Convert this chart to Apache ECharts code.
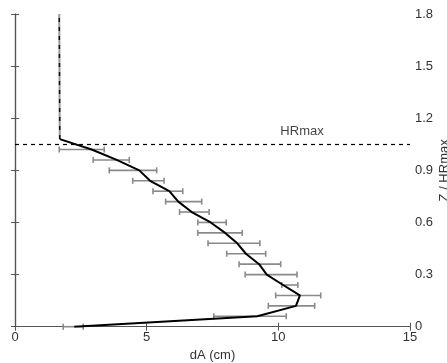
<!DOCTYPE html>
<html>
<head>
<meta charset="utf-8">
<script src="https://cdn.jsdelivr.net/npm/echarts@6/dist/echarts.min.js"></script>
<style>html,body{margin:0;padding:0;background:#fff}#c{width:447px;height:363px}</style>
</head>
<body>
<div id="c"></div>
<script>
// Heights (Z / HRmax) of the profile points and error bars
const zLevels = [0, 0.06, 0.12, 0.18, 0.24, 0.30, 0.36, 0.42, 0.48, 0.54, 0.60, 0.66, 0.72, 0.78, 0.84, 0.90, 0.96, 1.02];
// Mean dA (cm) along the profile
const dAMean = [2.25, 9.2, 10.67, 10.82, 10.18, 9.56, 9.27, 8.77, 8.44, 7.98, 7.43, 6.71, 6.20, 5.86, 5.13, 4.72, 3.86, 2.91];
// Error bar extents
const dALow  = [1.83, 7.55, 9.62, 9.90, 10.13, 8.74, 8.51, 8.04, 7.33, 6.94, 6.94, 6.25, 5.72, 5.24, 4.47, 3.58, 2.97, 1.68];
const dAHigh = [2.59, 10.30, 11.38, 11.61, 10.74, 10.71, 10.09, 9.52, 9.30, 8.63, 8.02, 7.37, 7.09, 6.37, 5.66, 5.38, 4.34, 3.39];
// Junction and upper part of the profile (above HRmax)
const upperZ = [1.08, 1.8];
const upperDA = [1.70, 1.68];
const hrMax = 1.05;
const hrLabel = 'HRmax';
const hrLabelPos = [10.9, 1.05];
const xTicks = [0, 5, 10, 15];
const yTicks = [0, 0.3, 0.6, 0.9, 1.2, 1.5, 1.8];

const mainLine = zLevels.map((z, i) => [dAMean[i], z]).concat([[upperDA[0], upperZ[0]]]);
const upperLine = upperZ.map((z, i) => [upperDA[i], z]);
const bars = zLevels.map((z, i) => [dALow[i], dAHigh[i], z]);

const axisCol = '#555';
const txtCol = '#333';
const font = 'Liberation Sans, Arial, sans-serif';

const chart = echarts.init(document.getElementById('c'));
chart.setOption({
  animation: false,
  grid: { left: 15, right: 37, top: 14, bottom: 36.3, containLabel: false, outerBoundsMode: 'none' },
  xAxis: [{
    type: 'value', min: 0, max: 15, interval: 5, position: 'bottom',
    name: 'dA (cm)', nameLocation: 'middle', nameGap: 18,
    nameTextStyle: { color: txtCol, fontSize: 13, fontFamily: font },
    axisLine: { show: true, lineStyle: { color: axisCol, width: 1.2 } },
    axisTick: { show: true, inside: true, length: 4, lineStyle: { color: axisCol } },
    axisLabel: { color: txtCol, fontSize: 13, fontFamily: font, margin: 4 },
    splitLine: { show: false }
  }, {
    type: 'value', min: 0, max: 15, interval: 5, position: 'top',
    axisLine: { show: true, lineStyle: { color: axisCol, width: 1.2 } },
    axisTick: { show: true, inside: true, length: 4, lineStyle: { color: axisCol } },
    axisLabel: { show: false }, splitLine: { show: false }
  }],
  yAxis: [{
    type: 'value', min: 0, max: 1.8, interval: 0.3, position: 'right',
    name: 'Z / HRmax', nameLocation: 'middle', nameGap: 28, nameRotate: 90, nameMoveOverlap: false,
    nameTextStyle: { color: txtCol, fontSize: 13, fontFamily: font },
    axisLine: { show: true, lineStyle: { color: axisCol, width: 1.2 } },
    axisTick: { show: true, inside: true, length: 4, lineStyle: { color: axisCol } },
    axisLabel: { color: txtCol, fontSize: 13, fontFamily: font, margin: 5,
      formatter: v => String(+v.toFixed(1)) },
    splitLine: { show: false }
  }, {
    type: 'value', min: 0, max: 1.8, interval: 0.3, position: 'left',
    axisLine: { show: true, lineStyle: { color: axisCol, width: 1.2 } },
    axisTick: { show: true, inside: true, length: 4, lineStyle: { color: axisCol } },
    axisLabel: { show: false }, splitLine: { show: false }
  }],
  series: [
    {
      type: 'custom', xAxisIndex: 0, yAxisIndex: 0, data: bars, z: 2,
      renderItem: function (params, api) {
        const p1 = api.coord([api.value(0), api.value(2)]);
        const p2 = api.coord([api.value(1), api.value(2)]);
        const h = 3;
        const st = { stroke: '#8a8a8a', lineWidth: 1.6 };
        return { type: 'group', children: [
          { type: 'line', shape: { x1: p1[0], y1: p1[1], x2: p2[0], y2: p2[1] }, style: st },
          { type: 'line', shape: { x1: p1[0], y1: p1[1] - h, x2: p1[0], y2: p1[1] + h }, style: st },
          { type: 'line', shape: { x1: p2[0], y1: p2[1] - h, x2: p2[0], y2: p2[1] + h }, style: st }
        ]};
      }
    },
    {
      type: 'line', xAxisIndex: 0, yAxisIndex: 0, data: upperLine, symbol: 'none', z: 3,
      lineStyle: { color: '#999', width: 2 }
    },
    {
      type: 'line', xAxisIndex: 0, yAxisIndex: 0, data: upperLine, symbol: 'none', z: 4,
      lineStyle: { color: '#111', width: 1.5, type: [4, 5] }
    },
    {
      type: 'line', xAxisIndex: 0, yAxisIndex: 0, data: mainLine, symbol: 'none', z: 5,
      lineStyle: { color: '#000', width: 2 },
      markLine: {
        silent: true, symbol: 'none', label: { show: false },
        lineStyle: { color: '#000', type: [4, 4], width: 1.2 },
        data: [{ yAxis: hrMax }]
      }
    },
    {
      type: 'scatter', xAxisIndex: 0, yAxisIndex: 0, data: [hrLabelPos], symbolSize: 0, z: 6,
      label: { show: true, position: 'top', distance: 6, formatter: hrLabel,
        color: '#111', fontSize: 13, fontFamily: font }
    }
  ]
});
</script>
</body>
</html>
